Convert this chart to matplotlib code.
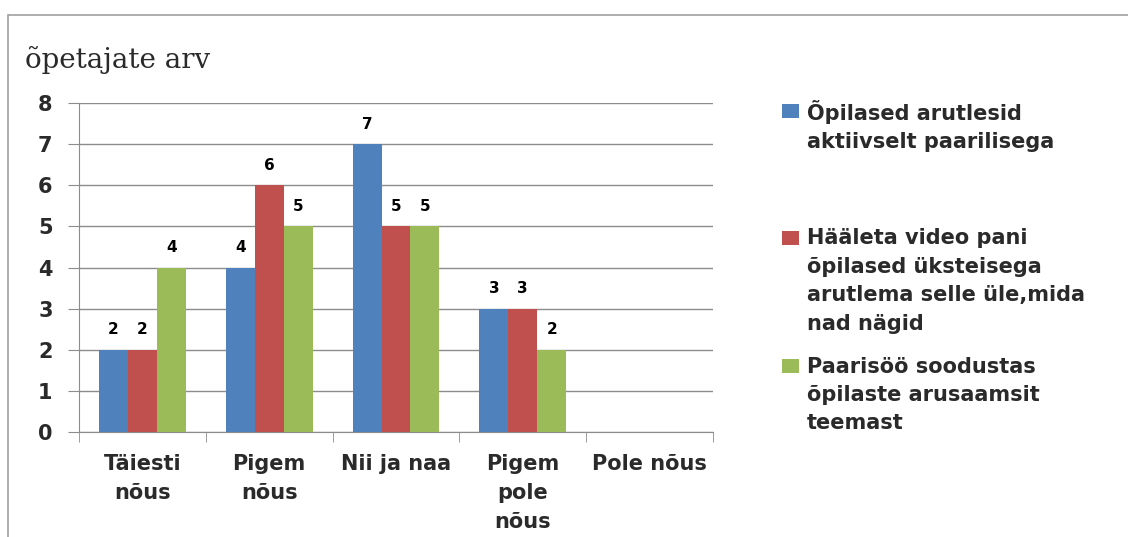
import numpy as np
import matplotlib
matplotlib.use("Agg")
import matplotlib.pyplot as plt
from matplotlib.patches import Rectangle

categories = ["Täiesti\nnõus", "Pigem\nnõus", "Nii ja naa", "Pigem\npole\nnõus", "Pole nõus"]
aktiivselt = [2, 4, 7, 3, np.nan]
haaleta_video = [2, 6, 5, 3, np.nan]
paaristoo = [4, 5, 5, 2, np.nan]
series_names = [
    "Õpilased arutlesid\naktiivselt paarilisega",
    "Hääleta video pani\nõpilased üksteisega\narutlema selle üle,mida\nnad nägid",
    "Paarisöö soodustas\nõpilaste arusaamsit\nteemast",
]
colors = ["#4F81BD", "#C0504D", "#9BBB59"]
grid_c = "#8c8c8c"
txt_c = "#2a2a2a"

plt.rcParams['font.family'] = ['DejaVu Sans']
plt.rcParams['font.weight'] = 'bold'

fig = plt.figure(figsize=(11.28, 5.37), dpi=100)
ax = fig.add_axes([79 / 1128, 1 - 432 / 537, (713 - 79) / 1128, (432 - 103) / 537])

# outer chart frame (only left/top visible)
fig.patches.append(Rectangle((8 / 1128, -0.1), 1.2, 1 - 15 / 537 + 0.1, transform=fig.transFigure,
                             fill=False, edgecolor="#a0a0a0", linewidth=1.2))

x = np.arange(len(categories))
w = 0.228
all_series = [aktiivselt, haaleta_video, paaristoo]
for i, (vals, c) in enumerate(zip(all_series, colors)):
    pos = x + (i - 1) * w
    ax.bar(pos, vals, width=w, color=c, zorder=3)
    for p, v in zip(pos, vals):
        if not np.isnan(v):
            ax.annotate(f"{int(v)}", (p, v), xytext=(0, 9), textcoords="offset points",
                        ha="center", va="bottom", fontsize=11, fontweight="bold", color="black")

ax.set_xlim(-0.5, len(categories) - 0.5)
ax.set_ylim(0, 8)
ax.set_yticks(range(0, 9))
ax.yaxis.grid(True, color=grid_c, linewidth=1, zorder=0)
ax.set_axisbelow(True)

ax.set_xticks(x)
ax.set_xticklabels(categories, fontsize=15, linespacing=1.58, va="top", color=txt_c)
ax.tick_params(axis="x", length=0, pad=15.5)
ax.set_xticks(np.arange(-0.5, len(categories)), minor=True)
ax.tick_params(axis="x", which="minor", length=7, color=grid_c, direction="out")
ax.tick_params(axis="y", length=8, color=grid_c, pad=11, labelsize=15, labelcolor=txt_c)

for s in ["top", "right"]:
    ax.spines[s].set_visible(False)
ax.spines["left"].set_color(grid_c)
ax.spines["bottom"].set_color(grid_c)

fig.text(25 / 1128, 1 - 68 / 537, "õpetajate arv", family="DejaVu Serif", fontweight="normal",
         fontsize=20, va="baseline", ha="left", color=txt_c)

# legend
leg_centers = [126, 281, 395]
leg_first = [111, 238, 366]
for name, c, yc, y1 in zip(series_names, colors, leg_centers, leg_first):
    fig.patches.append(Rectangle((782 / 1128, 1 - (y1 + 7) / 537), 17 / 1128, 14 / 537,
                                 transform=fig.transFigure, facecolor=c, edgecolor="none"))
    fig.text(807 / 1128, 1 - yc / 537, name, fontsize=15, va="center", ha="left",
             linespacing=1.53, color=txt_c)

fig.savefig("out.png", dpi=100)
